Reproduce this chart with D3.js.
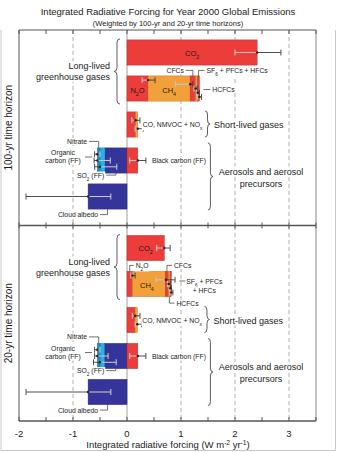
<!DOCTYPE html>
<html>
<head>
<meta charset="utf-8">
<script src="https://cdn.jsdelivr.net/npm/d3@7"></script>
<style>
body { margin: 0; background: #fff; }
svg { display: block; font-family: "Liberation Sans", Arial, sans-serif; }
</style>
</head>
<body>
<svg id="chart"></svg>
<script>
const W = 337;
const H = 452;

// data
const horizons = ["100-yr time horizon", "20-yr time horizon"];
const rowNames = ["CO2", "Other long-lived", "Short-lived", "Aerosols", "Cloud albedo"];
const components = ["CO2", "N2O", "CH4", "CFCs", "HCFCs", "SF6 + PFCs + HFCs", "CO, NMVOC", "NOx",
	"SO2 (FF)", "Organic carbon (FF)", "Nitrate", "Black carbon (FF)", "Cloud albedo"];
const componentRow = [0, 1, 1, 1, 1, 1, 2, 2, 3, 3, 3, 3, 4];
const forcing100 = [2.41, 0.39, 0.78, 0.10, 0.04, 0.03, 0.16, 0.04, -0.41, -0.09, -0.05, 0.20, -0.72];
const forcing20 = [0.69, 0.10, 0.61, 0.06, 0.03, 0.02, 0.15, 0.04, -0.42, -0.08, -0.05, 0.20, -0.72];
const errMid100 = [2.41, 0.39, 1.17, 1.27, 1.31, 1.34, 0.16, 0.20, -0.50, -0.55, -0.55, 0.20, -0.72];
const errLo100 = [2.00, 0.28, 0.90, 1.24, 1.29, 1.31, 0.09, 0.15, -0.60, -0.61, -0.60, 0.05, -1.87];
const errHi100 = [2.85, 0.52, 1.22, 1.30, 1.34, 1.38, 0.24, 0.30, -0.19, -0.31, -0.50, 0.35, -0.30];
const errMid20 = [0.69, 0.10, 0.72, 0.77, 0.80, 0.82, 0.15, 0.19, -0.50, -0.55, -0.55, 0.20, -0.72];
const errLo20 = [0.55, 0.07, 0.54, 0.75, 0.78, 0.80, 0.10, 0.15, -0.62, -0.60, -0.60, 0.05, -1.87];
const errHi20 = [0.80, 0.15, 0.89, 0.80, 0.82, 0.85, 0.24, 0.27, -0.20, -0.35, -0.50, 0.35, -0.30];
const tickLabels = [-2, -1, 0, 1, 2, 3];
const gridValues = [-1, 1, 2, 3];

const RED = "#ec3d3b", ORANGE = "#f2a03a", NAVY = "#35349a", CYAN = "#22b4e6", BLUE = "#2a86d0";
const palette = {
	"CO2": RED, "N2O": RED, "CH4": ORANGE, "CFCs": RED, "HCFCs": ORANGE, "SF6 + PFCs + HFCs": RED,
	"CO, NMVOC": RED, "NOx": ORANGE, "SO2 (FF)": NAVY, "Organic carbon (FF)": CYAN, "Nitrate": BLUE,
	"Black carbon (FF)": RED, "Cloud albedo": NAVY
};

const plot = { left: 19, right: 316, top: 30, bottom: 421 };
const svg = d3.select("#chart").attr("width", W).attr("height", H);

const x = d3.scaleLinear().domain([-2, 3.5]).range([plot.left, plot.right]);
const panelY = d3.scaleBand().domain(horizons).range([plot.top, plot.bottom]);

// text with _{sub} and ^{sup}
function rich(t, str) {
	const re = /([_^])\{([^}]*)\}/g;
	let last = 0, m;
	while ((m = re.exec(str))) {
		if (m.index > last) t.append("tspan").text(str.slice(last, m.index));
		t.append("tspan").attr("baseline-shift", m[1] === "_" ? "sub" : "super")
			.attr("font-size", "70%").text(m[2]);
		last = re.lastIndex;
	}
	if (last < str.length) t.append("tspan").text(str.slice(last));
}

function label(g, lx, ly, str, size, anchor = "start", bg = true) {
	const t = g.append("text").attr("x", lx).attr("y", ly)
		.attr("font-size", size).attr("text-anchor", anchor).attr("fill", "#1a1a1a");
	rich(t, str);
	if (bg) {
		const bb = t.node().getBBox();
		g.insert("rect", () => t.node())
			.attr("x", bb.x - 1).attr("y", bb.y).attr("width", bb.width + 2).attr("height", bb.height)
			.attr("fill", "#fff");
	}
	return t;
}

function leader(g, d) {
	g.append("path").attr("d", d).attr("fill", "none").attr("stroke", "#333").attr("stroke-width", 0.7);
}

// vertical curly brace, tips at bx, point at bx + w
function brace(g, bx, y1, y2, w) {
	const ym = (y1 + y2) / 2, h = w / 2, q = 4;
	const d = `M${bx},${y1} Q${bx + h},${y1} ${bx + h},${y1 + q} L${bx + h},${ym - q} Q${bx + h},${ym} ${bx + w},${ym}` +
		` Q${bx + h},${ym} ${bx + h},${ym + q} L${bx + h},${y2 - q} Q${bx + h},${y2} ${bx},${y2}`;
	g.append("path").attr("d", d).attr("fill", "none").attr("stroke", "#333").attr("stroke-width", 0.8);
}

function stack(values) {
	const pos = rowNames.map(() => 0), neg = rowNames.map(() => 0);
	return values.map((v, i) => {
		const r = componentRow[i];
		let x0, x1;
		if (v >= 0) { x0 = pos[r]; pos[r] += v; x1 = pos[r]; }
		else { x0 = neg[r]; neg[r] += v; x1 = neg[r]; }
		return { i: i, name: components[i], row: r, x0: x0, x1: x1 };
	});
}

// grid
const grid = svg.append("g");
grid.selectAll("line.grid").data(gridValues).enter().append("line")
	.attr("x1", d => x(d)).attr("x2", d => x(d))
	.attr("y1", plot.top).attr("y2", plot.bottom)
	.attr("stroke", "#9a9a9a").attr("stroke-width", 0.8).attr("stroke-dasharray", "4,3");
grid.append("line").attr("x1", x(0)).attr("x2", x(0)).attr("y1", plot.top).attr("y2", plot.bottom)
	.attr("stroke", "#a0a0a0").attr("stroke-width", 1);

const layers = { bars: svg.append("g"), err: svg.append("g"), text: svg.append("g"), lines: svg.append("g") };

function drawPanel(p) {
	const top = panelY(horizons[p]);
	const forcing = p === 0 ? forcing100 : forcing20;
	const eMid = p === 0 ? errMid100 : errMid20;
	const eLo = p === 0 ? errLo100 : errLo20;
	const eHi = p === 0 ? errHi100 : errHi20;
	const y = d3.scaleBand().domain(rowNames).range([top + 4.5, top + 184.5]).paddingInner(0.3).paddingOuter(0.15);
	const bw = y.bandwidth();
	const segs = stack(forcing);
	const rt = r => y(rowNames[r]);
	const mid = name => { const s = segs[components.indexOf(name)]; return x((s.x0 + s.x1) / 2); };
	const rowEnd = r => x(d3.max(segs.filter(s => s.row === r), s => s.x1));

	layers.bars.selectAll(null).data(segs).enter().append("rect")
		.attr("x", d => x(Math.min(d.x0, d.x1)))
		.attr("width", d => Math.abs(x(d.x1) - x(d.x0)))
		.attr("y", d => rt(d.row)).attr("height", bw)
		.attr("fill", d => palette[d.name])
		.attr("stroke", d => d3.color(palette[d.name]).darker(0.7)).attr("stroke-width", 0.5);

	// error bar slots inside each row
	const errs = segs.map(s => ({ row: s.row, name: s.name, mid: eMid[s.i], lo: eLo[s.i], hi: eHi[s.i], sign: forcing[s.i] >= 0 }));
	const errY = {};
	rowNames.forEach((rn, r) => {
		[true, false].forEach(sign => {
			let list = errs.filter(e => e.row === r && e.sign === sign);
			if (!sign) list = list.reverse();
			list.forEach((e, k) => { e.y = rt(r) + bw * (k + 1) / (list.length + 1); errY[e.name] = e.y; });
		});
	});
	errs.forEach(e => {
		const g = layers.err;
		const inner = e.mid >= 0 ? e.lo : e.hi, outer = e.mid >= 0 ? e.hi : e.lo;
		g.append("line").attr("x1", x(e.mid)).attr("x2", x(outer)).attr("y1", e.y).attr("y2", e.y)
			.attr("stroke", "#3a3a3a").attr("stroke-width", 0.9);
		g.append("line").attr("x1", x(outer)).attr("x2", x(outer)).attr("y1", e.y - 3).attr("y2", e.y + 3)
			.attr("stroke", "#3a3a3a").attr("stroke-width", 0.9);
		g.append("line").attr("x1", x(e.mid)).attr("x2", x(inner)).attr("y1", e.y).attr("y2", e.y)
			.attr("stroke", "#c4c4c4").attr("stroke-width", 1.1);
		g.append("line").attr("x1", x(inner)).attr("x2", x(inner)).attr("y1", e.y - 3).attr("y2", e.y + 3)
			.attr("stroke", "#c4c4c4").attr("stroke-width", 1.1);
		g.append("circle").attr("cx", x(e.mid)).attr("cy", e.y).attr("r", 1.2).attr("fill", "#222");
	});

	const T = layers.text, L = layers.lines;
	const small = 6.8, big = 9;
	// long-lived greenhouse gases
	label(T, mid("CO2"), rt(0) + bw / 2 + 3, "CO_{2}", 7.5, "middle", false);
	const llTop = rt(0) - 1, llBot = rt(1) + bw + 3, llMid = (llTop + llBot) / 2;
	brace(L, 120, llTop, llBot, -6);
	label(T, 110, llMid - 2.5, "Long-lived", big, "end");
	label(T, 110, llMid + 8.5, "greenhouse gases", big, "end");
	const t1 = rt(1), m1 = t1 + bw / 2, b1 = t1 + bw, end1 = rowEnd(1);
	if (p === 0) {
		label(T, mid("N2O"), m1 + 4, "N_{2}O", 7.5, "middle", false);
		label(T, mid("CH4"), m1 + 4, "CH_{4}", 7.5, "middle", false);
		label(T, mid("CFCs") - 9, t1 - 3, "CFCs", small, "end");
		leader(L, `M${mid("CFCs")},${t1} V${t1 - 5.5} H${mid("CFCs") - 7}`);
		label(T, mid("SF6 + PFCs + HFCs") + 8, t1 - 3, "SF_{6} + PFCs + HFCs", small);
		leader(L, `M${mid("SF6 + PFCs + HFCs")},${t1} V${t1 - 5.5} H${mid("SF6 + PFCs + HFCs") + 6}`);
		label(T, end1 + 13, m1 + 3.5, "HCFCs", small);
		leader(L, `M${end1 + 4},${m1 + 1} H${end1 + 11}`);
	} else {
		label(T, mid("N2O") + 6, t1 - 3.5, "N_{2}O", small);
		leader(L, `M${mid("N2O")},${t1} V${t1 - 6} H${mid("N2O") + 4}`);
		label(T, mid("CH4") - 2, m1 + 3.5, "CH_{4}", 7.5, "middle", false);
		label(T, mid("CFCs") + 7, t1 - 3.5, "CFCs", small);
		leader(L, `M${mid("CFCs")},${t1} V${t1 - 6} H${mid("CFCs") + 5}`);
		label(T, end1 + 33, m1 - 0.5, "SF_{6} + PFCs", small, "middle");
		label(T, end1 + 33, m1 + 8.5, "+ HFCs", small, "middle");
		leader(L, `M${end1 + 8},${m1 - 3} H${end1 + 14}`);
		label(T, mid("HCFCs") + 7, b1 + 9, "HCFCs", small);
		leader(L, `M${mid("HCFCs")},${b1} V${b1 + 6.5} H${mid("HCFCs") + 5}`);
	}

	// short-lived gases
	const t2 = rt(2), m2 = t2 + bw / 2;
	const co = label(T, rowEnd(2) + 5, m2 + 2.5, "CO, NMVOC + NO_{x}", small);
	const coR = co.node().getBBox().x + co.node().getBBox().width;
	brace(L, coR + 2, t2 - 1, t2 + bw, 5);
	label(T, coR + 11, m2 + 3.5, "Short-lived gases", big);

	// aerosols
	const t3 = rt(3), m3 = t3 + bw / 2, b3 = t3 + bw;
	label(T, 87, t3 - 4, "Nitrate", small, "end");
	leader(L, `M${89},${t3 - 6.5} H${mid("Nitrate")} V${t3}`);
	label(T, 63, m3 - 5.5, "Organic", small, "middle");
	label(T, 63, m3 + 2.5, "carbon (FF)", small, "middle");
	leader(L, `M85,${m3 - 3.5} H92`);
	const so = label(T, 77, b3 + 4.5, "SO_{2} (FF)", small);
	const soR = so.node().getBBox().x + so.node().getBBox().width;
	leader(L, `M${soR + 2},${b3 + 2} H${mid("SO2 (FF)")} V${b3}`);
	const bc = label(T, x(eHi[11]) + 6, errY["Black carbon (FF)"] + 2.5, "Black carbon (FF)", small);
	const bcR = bc.node().getBBox().x + bc.node().getBBox().width;
	const t4 = rt(4), b4 = t4 + bw;
	const aTop = t3 - 5, aBot = b4 + 1, aMid = (aTop + aBot) / 2;
	brace(L, bcR + 2, aTop, aBot, 5);
	label(T, bcR + 55, aMid - 2, "Aerosols and aerosol", big, "middle");
	label(T, bcR + 55, aMid + 10, "precursors", big, "middle");
	label(T, 98, b4 + 8, "Cloud albedo", small, "end");
	leader(L, `M100,${b4 + 5.5} H${mid("Cloud albedo")} V${b4}`);

	// horizon label
	svg.append("text").attr("transform", `translate(12,${top + panelY.bandwidth() / 2}) rotate(-90)`)
		.attr("text-anchor", "middle").attr("font-size", 10).attr("fill", "#1a1a1a").text(horizons[p]);
}

drawPanel(0);
drawPanel(1);

// frame and ticks
const ax = svg.append("g").attr("stroke", "#555");
const ticks = x.ticks(11);
const midY = panelY(horizons[1]);
ax.append("line").attr("x1", plot.left).attr("x2", plot.right).attr("y1", plot.top).attr("y2", plot.top).attr("stroke-width", 1);
ax.append("line").attr("x1", plot.left).attr("x2", plot.right).attr("y1", midY).attr("y2", midY).attr("stroke-width", 1.5);
ax.append("line").attr("x1", plot.left).attr("x2", plot.right).attr("y1", plot.bottom).attr("y2", plot.bottom).attr("stroke-width", 1.5);
ax.append("line").attr("x1", plot.left).attr("x2", plot.left).attr("y1", plot.top).attr("y2", plot.bottom).attr("stroke-width", 1);
ax.append("line").attr("x1", plot.right).attr("x2", plot.right).attr("y1", plot.top).attr("y2", plot.bottom).attr("stroke", "#888").attr("stroke-width", 1);
ax.selectAll(null).data(ticks).enter().append("line")
	.attr("x1", d => x(d)).attr("x2", d => x(d)).attr("y1", plot.top).attr("y2", plot.top + 4);
ax.selectAll(null).data(ticks).enter().append("line")
	.attr("x1", d => x(d)).attr("x2", d => x(d)).attr("y1", midY - 3).attr("y2", midY + 3);
ax.selectAll(null).data(ticks).enter().append("line")
	.attr("x1", d => x(d)).attr("x2", d => x(d)).attr("y1", plot.bottom - 4).attr("y2", plot.bottom);

svg.append("g").selectAll("text").data(tickLabels).enter().append("text")
	.attr("x", d => x(d)).attr("y", 437).attr("text-anchor", "middle")
	.attr("font-size", 9.5).attr("fill", "#1a1a1a").text(d => d < 0 ? "-" + Math.abs(d) : d);

const xt = svg.append("text").attr("x", 168).attr("y", 448).attr("text-anchor", "middle")
	.attr("font-size", 9.5).attr("fill", "#1a1a1a");
rich(xt, "Integrated radiative forcing (W m^{-2} yr^{-1})");

svg.append("text").attr("x", 168).attr("y", 15).attr("text-anchor", "middle")
	.attr("font-size", 9.5).attr("fill", "#1a1a1a").text("Integrated Radiative Forcing for Year 2000 Global Emissions");
svg.append("text").attr("x", 168).attr("y", 26).attr("text-anchor", "middle")
	.attr("font-size", 7.5).attr("fill", "#1a1a1a").text("(Weighted by 100-yr and 20-yr time horizons)");

// outer figure border
svg.append("path").attr("d", "M1,30 V450.5 H335.5 V30").attr("fill", "none").attr("stroke", "#c8c8c8").attr("stroke-width", 1);
</script>
</body>
</html>
